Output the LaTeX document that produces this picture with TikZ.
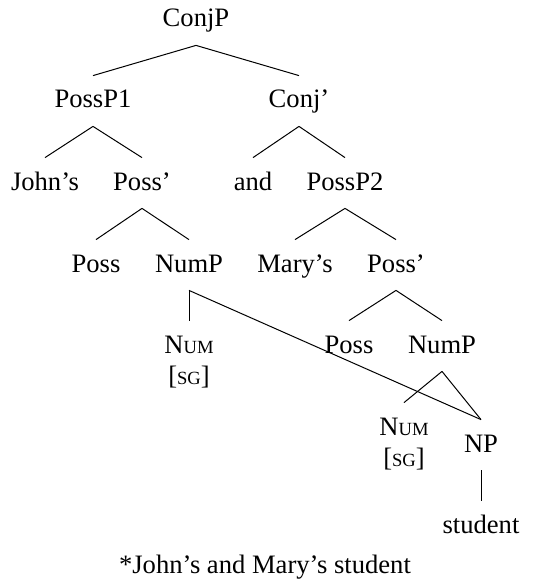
\documentclass[tikz,border=0pt]{standalone}
\usepackage{fontspec}
\setmainfont{Liberation Serif}
\newcommand\fsc[1]{{\fontsize{9.3pt}{10pt}\selectfont #1}}
\newcommand\numsg{\begin{tabular}[t]{@{}c@{}}N\fsc{UM}\\ {[}\fsc{SG}{]}\end{tabular}}
\begin{document}
\begin{tikzpicture}[x=0.5pt,y=-0.5pt,
  lab/.style={anchor=base,inner sep=0pt,text height=16pt,text depth=9pt,font=\fontsize{13.3pt}{15.5pt}\selectfont},
  edge/.style={line width=0.5pt}]
\useasboundingbox (0,0) rectangle (532,583);
\node[lab] (conjp) at (196,27) {ConjP};
\node[lab] (possp1) at (93,108) {PossP1};
\node[lab] (conjb) at (299,108) {Conj’};
\node[lab] (johns) at (45,190) {John’s};
\node[lab] (possb1) at (142,190) {Poss’};
\node[lab] (and) at (253,190) {and};
\node[lab] (possp2) at (345,190) {PossP2};
\node[lab] (poss1) at (96,272) {Poss};
\node[lab] (nump1) at (189,272) {NumP};
\node[lab] (marys) at (295,272) {Mary’s};
\node[lab] (possb2) at (396,272) {Poss’};
\node[lab] (num1) at (189,353) {\numsg};
\node[lab] (poss2) at (349,353) {Poss};
\node[lab] (nump2) at (442,353) {NumP};
\node[lab] (num2) at (404,435) {\numsg};
\node[lab] (np) at (481,452) {NP};
\node[lab] (student) at (481,533) {student};
\node[lab] (cap) at (265,573) {*John’s and Mary’s student};
\draw[edge] (conjp.south) -- (possp1.north);
\draw[edge] (conjp.south) -- (conjb.north);
\draw[edge] (possp1.south) -- (johns.north);
\draw[edge] (possp1.south) -- (possb1.north);
\draw[edge] (conjb.south) -- (and.north);
\draw[edge] (conjb.south) -- (possp2.north);
\draw[edge] (possb1.south) -- (poss1.north);
\draw[edge] (possb1.south) -- (nump1.north);
\draw[edge] (possp2.south) -- (marys.north);
\draw[edge] (possp2.south) -- (possb2.north);
\draw[edge] (nump1.south) -- (num1.north);
\draw[edge] (nump1.south) -- (np.north);
\draw[edge] (possb2.south) -- (poss2.north);
\draw[edge] (possb2.south) -- (nump2.north);
\draw[edge] (nump2.south) -- (num2.north);
\draw[edge] (nump2.south) -- (np.north);
\draw[edge] (np.south) -- (student.north);
\end{tikzpicture}
\end{document}
